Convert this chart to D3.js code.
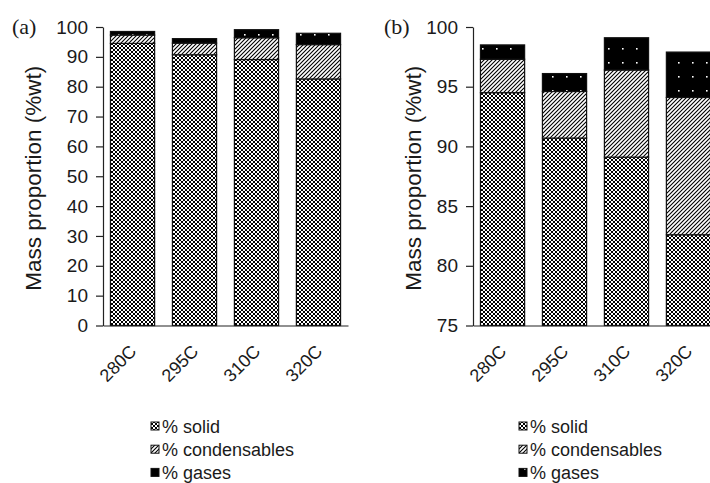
<!DOCTYPE html>
<html><head><meta charset="utf-8">
<script src="https://cdn.jsdelivr.net/npm/d3@7"></script>
<style>
html,body{margin:0;padding:0;background:#fff;}
svg{display:block;}
text{font-family:"Liberation Sans",Arial,sans-serif;fill:#1a1a1a;}
</style></head>
<body>
<svg id="c" width="710" height="483"></svg>
<script>
const categories = ["280C", "295C", "310C", "320C"];
const solid = [94.5, 90.7, 89.1, 82.6];
const condensables = [2.8, 3.9, 7.3, 11.5];
const gases = [1.2, 1.5, 2.7, 3.8];
const seriesNames = ["% solid", "% condensables", "% gases"];
const ticksA = [0, 10, 20, 30, 40, 50, 60, 70, 80, 90, 100];
const ticksB = [75, 80, 85, 90, 95, 100];
const yTitle = "Mass proportion (%wt)";

const svg = d3.select("#c");
const defs = svg.append("defs");

// patterns
const pS = defs.append("pattern").attr("id","pSolid").attr("patternUnits","userSpaceOnUse").attr("width",4).attr("height",4);
pS.append("rect").attr("width",4).attr("height",4).attr("fill","#fff");
pS.append("path").attr("d","M0,0L4,4M4,0L0,4").attr("stroke","#000").attr("stroke-width",1.0);
const pC = defs.append("pattern").attr("id","pCond").attr("patternUnits","userSpaceOnUse").attr("width",4).attr("height",4);
pC.append("rect").attr("width",4).attr("height",4).attr("fill","#fff");
pC.append("path").attr("d","M0,4L4,0M-1,1L1,-1M3,5L5,3").attr("stroke","#000").attr("stroke-width",1.1);
const pG = defs.append("pattern").attr("id","pGas").attr("patternUnits","userSpaceOnUse").attr("width",14).attr("height",14);
pG.append("rect").attr("width",14).attr("height",14).attr("fill","#000");
pG.append("rect").attr("x",6).attr("y",6).attr("width",1.6).attr("height",1.6).attr("fill","#fff");
const fills = ["url(#pSolid)", "url(#pCond)", "url(#pGas)"];

const rows = categories.map((c,i)=>({cat:c, s0:solid[i], s1:condensables[i], s2:gases[i]}));
const stack = d3.stack().keys(["s0","s1","s2"])(rows);

function panel(opt){
  const g = svg.append("g");
  const x = d3.scaleBand().domain(categories).range([opt.x0, opt.x1]).paddingInner(0.287).paddingOuter(0.12);
  const y = d3.scaleLinear().domain(opt.domain).range([opt.yb, opt.yt]).clamp(true);

  stack.forEach((layer, li)=>{
    g.selectAll(null).data(layer).join("rect")
      .attr("x", d=>x(d.data.cat))
      .attr("width", x.bandwidth())
      .attr("y", d=>y(d[1]))
      .attr("height", d=>y(d[0]) - y(d[1]))
      .attr("fill", fills[li])
      .attr("stroke", "#111").attr("stroke-width", 1.2);
  });

  const ya = g.append("g").attr("transform",`translate(${opt.x0},0)`)
    .call(d3.axisLeft(y).tickValues(opt.ticks).tickSize(7).tickSizeOuter(0).tickPadding(8));
  ya.select(".domain").attr("stroke","#222").attr("stroke-width",1.2);
  ya.selectAll(".tick line").attr("stroke","#222").attr("stroke-width",1.2);
  ya.selectAll(".tick text").style("font-size","19px").style("font-family","Liberation Sans, Arial, sans-serif").attr("fill","#1a1a1a");

  const xa = g.append("g").attr("transform",`translate(0,${opt.yb})`)
    .call(d3.axisBottom(x).tickSize(0).tickSizeOuter(0).tickPadding(0));
  xa.select(".domain").attr("stroke","#222").attr("stroke-width",1.2);
  xa.selectAll(".tick text")
    .style("font-size","18px").style("font-family","Liberation Sans, Arial, sans-serif")
    .attr("fill","#1a1a1a")
    .attr("text-anchor","end").attr("dy",0).attr("y",0)
    .attr("transform","translate(5,27) rotate(-45)");

  g.append("text").attr("transform",`translate(${opt.labX},${(opt.yt+opt.yb)/2+2}) rotate(-90)`)
    .attr("text-anchor","middle").attr("dy","0.35em").style("font-size","22.5px").text(yTitle);

  g.append("text").attr("x",opt.tagX).attr("y",34)
    .style("font-family","Liberation Serif, Times New Roman, serif").style("font-size","22px")
    .text(opt.tag);

  const lg = g.append("g");
  seriesNames.forEach((n,i)=>{
    const yy = 427 + i*23.2;
    lg.append("rect").attr("x",opt.legX).attr("y",yy-5).attr("width",8).attr("height",8)
      .attr("fill",fills[i]).attr("stroke","#111").attr("stroke-width",1);
    lg.append("text").attr("x",opt.legX+11).attr("y",yy).attr("dy","0.33em")
      .style("font-size","18px").text(n);
  });
}

panel({x0:103, x1:348, yt:27, yb:325.5, domain:[0,100], ticks:ticksA, labX:33, tag:"(a)", tagX:12, legX:151});
panel({x0:473, x1:718, yt:27, yb:325.5, domain:[75,100], ticks:ticksB, labX:413, tag:"(b)", tagX:384, legX:519});
</script>
</body></html>
